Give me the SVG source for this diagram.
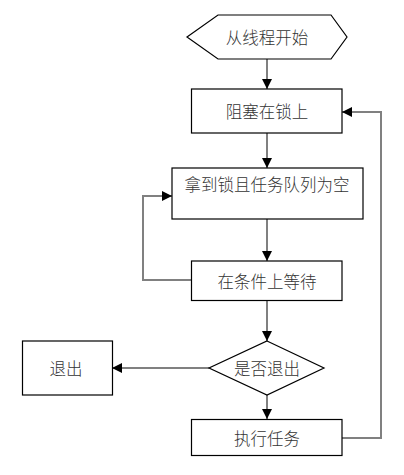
<svg xmlns="http://www.w3.org/2000/svg" width="404" height="475" viewBox="0 0 404 475">
<style>
.n{fill:#fff;stroke:#000;stroke-width:1.2}
.t{font-family:"Noto Sans CJK SC","Noto Sans CJK JP",sans-serif;font-size:16.5px;font-weight:300;fill:#333;text-anchor:middle;dominant-baseline:central}
.c{fill:none;stroke:#808080;stroke-width:2}
</style>
<defs>
<marker id="a" viewBox="0 0 10 10" refX="10" refY="5" markerWidth="10" markerHeight="10" markerUnits="userSpaceOnUse" orient="auto">
<path d="M0,0 L10,5 L0,10 Z" fill="#000"/>
</marker>
</defs>
<rect width="404" height="475" fill="#fff"/>
<g id="connectors">
<line class="c" x1="267" y1="59" x2="267" y2="89" marker-end="url(#a)"/>
<line class="c" x1="267" y1="133" x2="267" y2="168" marker-end="url(#a)"/>
<line class="c" x1="267" y1="219" x2="267" y2="261" marker-end="url(#a)"/>
<line class="c" x1="267" y1="300" x2="267" y2="341" marker-end="url(#a)"/>
<line class="c" x1="267" y1="395" x2="267" y2="419" marker-end="url(#a)"/>
<polyline class="c" points="192,280 143,280 143,196 172,196" marker-end="url(#a)"/>
<line class="c" x1="209" y1="368" x2="112" y2="368" marker-end="url(#a)"/>
<polyline class="c" points="342,438 381,438 381,112 342,112" marker-end="url(#a)"/>
</g>
<g id="start">
<polygon class="n" points="187,37 218,15 331,15 347,37 331,59 218,59"/>
<text class="t" x="267" y="37">从线程开始</text>
</g>
<g id="block">
<rect class="n" x="191.5" y="89" width="150.5" height="44"/>
<text class="t" x="267" y="111">阻塞在锁上</text>
</g>
<g id="getlock">
<rect class="n" x="172" y="168" width="191" height="51"/>
<text class="t" x="267" y="184">拿到锁且任务队列为空</text>
</g>
<g id="wait">
<rect class="n" x="191.5" y="261" width="150.5" height="39.5"/>
<text class="t" x="267" y="280.5">在条件上等待</text>
</g>
<g id="decide">
<polygon class="n" points="267,341 324,368 267,395 209,368"/>
<text class="t" x="267" y="368">是否退出</text>
</g>
<g id="exit">
<rect class="n" x="22.5" y="341" width="90" height="54"/>
<text class="t" x="66" y="368">退出</text>
</g>
<g id="run">
<rect class="n" x="191.5" y="419.5" width="150.5" height="36"/>
<text class="t" x="267" y="437.5">执行任务</text>
</g>
</svg>
